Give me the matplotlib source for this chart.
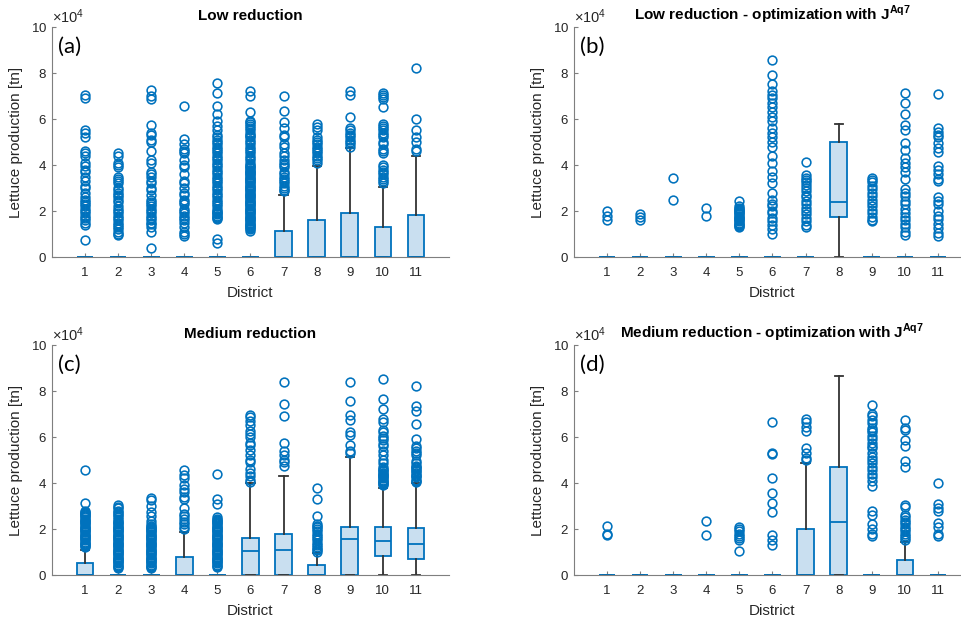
import numpy as np
import matplotlib
matplotlib.use("Agg")
import matplotlib.pyplot as plt

plt.rcParams["font.family"] = ["Liberation Sans", "DejaVu Sans"]
plt.rcParams["mathtext.fontset"] = "custom"
plt.rcParams["mathtext.rm"] = "Liberation Sans"
plt.rcParams["mathtext.bf"] = "Liberation Sans:bold"

# lettuce production per district, values in units of 10^4 tn
SCALE = 1e4
districts = list(range(1, 12))

# (a) low reduction
a_q1 = [0] * 11
a_med = [0] * 11
a_q3 = [0, 0, 0, 0, 0, 0, 1.13, 1.61, 1.93, 1.32, 1.83]
a_lo = [0] * 11
a_hi = [0, 0, 0, 0, 0, 0, 2.7, 3.97, 4.72, 3.06, 4.4]
a_out = [
    [7.05, 6.9, 5.5, 5.4, 5.2, 4.6, 4.5, 4.4, 4.1, 3.95, 3.8, 3.7, 3.5, 3.3, 3.1, 3.0, 2.8, 2.6, 2.5,
     2.4, 2.3, 2.2, 2.1, 2.0, 1.9, 1.8, 1.7, 1.6, 1.5, 1.4, 0.75],
    [4.5, 4.4, 4.1, 4.0, 3.9, 3.5, 3.4, 3.3, 3.2, 3.0, 2.9, 2.8, 2.7, 2.6, 2.5, 2.4, 2.2, 2.1, 2.0,
     1.9, 1.8, 1.7, 1.6, 1.5, 1.4, 1.3, 1.2, 1.1, 1.0, 0.95],
    [7.25, 7.0, 6.85, 5.75, 5.4, 5.3, 5.1, 5.0, 4.6, 4.2, 4.1, 3.7, 3.6, 3.5, 3.3, 3.2, 3.0, 2.9,
     2.7, 2.5, 2.4, 2.3, 2.2, 2.1, 2.0, 1.9, 1.8, 1.7, 1.6, 1.5, 1.45, 1.3, 1.1, 0.4],
    [6.55, 5.15, 4.9, 4.7, 4.6, 4.5, 4.2, 4.0, 3.9, 3.6, 3.3, 3.2, 3.0, 2.8, 2.7, 2.5, 2.4, 2.3,
     2.1, 2.0, 1.9, 1.8, 1.7, 1.6, 1.5, 1.3, 1.1, 1.0, 0.9],
    [7.55, 7.15, 6.55, 6.2, 5.9, 5.7, 5.5, 5.3, 5.2, 5.1, 5.0, 4.9, 4.8, 4.7, 4.6, 4.5, 4.4, 4.3,
     4.2, 4.1, 4.0, 3.9, 3.8, 3.7, 3.6, 3.5, 3.4, 3.3, 3.2, 3.1, 3.0, 2.9, 2.8, 2.7, 2.6, 2.5,
     2.4, 2.3, 2.2, 2.1, 2.0, 1.95, 1.9, 1.85, 1.8, 1.75, 1.7, 1.65, 0.8, 0.6],
    [7.2, 7.0, 6.3, 5.9, 5.85, 5.8, 5.7, 5.6, 5.5, 5.4, 5.3, 5.25, 5.2, 5.1, 5.0, 4.9, 4.8, 4.7,
     4.6, 4.5, 4.4, 4.3, 4.2, 4.1, 4.0, 3.95, 3.9, 3.85, 3.8, 3.75, 3.7, 3.65, 3.6, 3.55, 3.5,
     3.45, 3.4, 3.35, 3.3, 3.25, 3.2, 3.15, 3.1, 3.05, 3.0, 2.95, 2.9, 2.85, 2.8, 2.75, 2.7,
     2.65, 2.6, 2.55, 2.5, 2.45, 2.4, 2.35, 2.3, 2.25, 2.2, 2.15, 2.1, 2.05, 2.0, 1.95, 1.9,
     1.85, 1.8, 1.75, 1.7, 1.65, 1.6, 1.55, 1.5, 1.45, 1.4, 1.35, 1.3, 1.25, 1.2, 1.15],
    [7.0, 6.35, 5.85, 5.6, 5.3, 5.2, 4.9, 4.8, 4.5, 4.4, 4.2, 4.1, 4.0, 3.9, 3.7, 3.6, 3.5, 3.4,
     3.3, 3.2, 3.1, 3.0, 2.9, 2.85],
    [5.8, 5.65, 5.5, 5.2, 5.1, 5.0, 4.9, 4.8, 4.7, 4.6, 4.5, 4.4, 4.3, 4.2, 4.1],
    [7.2, 7.05, 6.1, 5.6, 5.5, 5.4, 5.3, 5.2, 5.1, 5.0, 4.9, 4.8],
    [7.15, 7.05, 6.95, 6.85, 6.5, 5.8, 5.7, 5.6, 5.5, 5.4, 5.3, 5.2, 5.0, 4.9, 4.7, 4.6, 4.5,
     4.0, 3.9, 3.8, 3.7, 3.6, 3.5, 3.4, 3.3, 3.2],
    [8.2, 6.0, 5.5, 5.2, 5.0, 4.7, 4.6],
]

# (b) low reduction, optimised with J^Aq7
b_q1 = [0, 0, 0, 0, 0, 0, 0, 1.75, 0, 0, 0]
b_med = [0, 0, 0, 0, 0, 0, 0, 2.37, 0, 0, 0]
b_q3 = [0, 0, 0, 0, 0, 0, 0, 4.98, 0, 0, 0]
b_lo = [0] * 11
b_hi = [0, 0, 0, 0, 0, 0, 0, 5.77, 0, 0, 0]
b_out = [
    [2.0, 1.8, 1.6],
    [1.85, 1.75, 1.6],
    [3.45, 2.5],
    [2.15, 1.8],
    [2.45, 2.2, 2.15, 2.1, 2.05, 2.0, 1.95, 1.9, 1.85, 1.8, 1.75, 1.7, 1.65, 1.6, 1.55, 1.5,
     1.45, 1.4, 1.35, 1.3],
    [8.55, 7.9, 7.5, 7.2, 7.05, 6.9, 6.7, 6.5, 6.3, 6.1, 5.9, 5.6, 5.4, 5.2, 5.0, 4.8, 4.4, 4.1,
     3.75, 3.5, 3.2, 2.8, 2.5, 2.3, 2.2, 2.0, 1.9, 1.7, 1.55, 1.4, 1.2, 1.0],
    [4.15, 3.55, 3.45, 3.35, 3.25, 3.15, 3.0, 2.85, 2.7, 2.6, 2.45, 2.3, 2.15, 2.0, 1.85, 1.7,
     1.55, 1.4, 1.3],
    [],
    [3.45, 3.35, 3.25, 3.1, 2.95, 2.8, 2.65, 2.5, 2.35, 2.2, 2.05, 1.9, 1.75, 1.6, 1.55],
    [7.15, 6.7, 6.2, 5.75, 5.5, 4.95, 4.65, 4.3, 4.1, 3.9, 3.7, 3.4, 2.95, 2.8, 2.65, 2.45, 2.3,
     2.1, 1.9, 1.75, 1.6, 1.45, 1.3, 1.1, 0.95],
    [7.1, 5.6, 5.45, 5.3, 5.2, 4.95, 4.75, 4.55, 3.95, 3.8, 3.6, 3.4, 3.3, 2.6, 2.45, 2.3, 2.0,
     1.8, 1.65, 1.45, 1.25, 1.05, 0.9],
]

# (c) medium reduction
c_q1 = [0, 0, 0, 0, 0, 0, 0, 0, 0, 0.83, 0.68]
c_med = [0, 0, 0, 0, 0, 1.04, 1.09, 0, 1.57, 1.49, 1.35]
c_q3 = [0.51, 0, 0, 0.8, 0, 1.62, 1.78, 0.43, 2.07, 2.07, 2.03]
c_lo = [0] * 11
c_hi = [1.1, 0, 0, 1.88, 0, 3.99, 4.32, 0.94, 5.12, 3.8, 3.99]
c_out = [
    [4.55, 3.15, 2.8, 2.75, 2.7, 2.65, 2.6, 2.55, 2.5, 2.45, 2.4, 2.35, 2.3, 2.25, 2.2, 2.15,
     2.1, 2.05, 2.0, 1.95, 1.9, 1.85, 1.8, 1.75, 1.7, 1.65, 1.6, 1.55, 1.5, 1.45, 1.4, 1.35,
     1.3, 1.25, 1.2],
    [3.05, 2.95, 2.9, 2.8, 2.75, 2.65, 2.6, 2.5, 2.45, 2.35, 2.3, 2.25, 2.2, 2.15, 2.1, 2.05,
     2.0, 1.95, 1.9, 1.85, 1.8, 1.75, 1.7, 1.65, 1.6, 1.55, 1.5, 1.45, 1.4, 1.35, 1.3, 1.25,
     1.2, 1.15, 1.1, 1.05, 1.0, 0.95, 0.9, 0.85, 0.8, 0.75, 0.7, 0.65, 0.6, 0.55, 0.5, 0.45,
     0.4, 0.35, 0.3],
    [3.35, 3.25, 3.0, 2.75, 2.55, 2.35, 2.2, 2.15, 2.1, 2.05, 2.0, 1.95, 1.9, 1.85, 1.8, 1.75,
     1.7, 1.65, 1.6, 1.55, 1.5, 1.45, 1.4, 1.35, 1.3, 1.25, 1.2, 1.15, 1.1, 1.05, 1.0, 0.95,
     0.9, 0.85, 0.8, 0.75, 0.7, 0.65, 0.6, 0.55, 0.5, 0.45, 0.4, 0.35, 0.3],
    [4.55, 4.35, 4.2, 3.9, 3.75, 3.6, 3.4, 3.3, 2.9, 2.65, 2.55, 2.45, 2.3, 2.2, 2.1, 2.0],
    [4.4, 3.3, 3.1, 2.5, 2.45, 2.4, 2.35, 2.3, 2.25, 2.2, 2.15, 2.1, 2.05, 2.0, 1.95, 1.9,
     1.85, 1.8, 1.75, 1.7, 1.65, 1.6, 1.55, 1.5, 1.45, 1.4, 1.35, 1.3, 1.25, 1.2, 1.15, 1.1,
     1.05, 1.0, 0.95, 0.9, 0.85, 0.8, 0.75, 0.7, 0.65, 0.6, 0.55, 0.5, 0.45, 0.4, 0.35],
    [6.95, 6.85, 6.7, 6.5, 6.25, 6.15, 6.0, 5.75, 5.65, 5.45, 5.2, 5.0, 4.9, 4.6, 4.45, 4.3,
     4.15, 4.05],
    [8.4, 7.45, 6.9, 5.75, 5.4, 5.2, 5.0, 4.9, 4.75],
    [3.8, 3.3, 2.55, 2.2, 2.15, 2.1, 2.0, 1.9, 1.8, 1.7, 1.6, 1.5, 1.4, 1.3, 1.2, 1.15, 1.1,
     1.0],
    [8.4, 7.55, 6.95, 6.75, 6.2, 6.1, 5.65, 5.4, 5.3],
    [8.5, 7.65, 7.2, 6.8, 6.65, 6.3, 6.2, 6.05, 5.95, 5.85, 5.7, 5.6, 5.4, 5.2, 5.0, 4.85, 4.7,
     4.6, 4.55, 4.5, 4.45, 4.4, 4.35, 4.3, 4.25, 4.2, 4.15, 4.1, 4.05, 4.0, 3.95, 3.9],
    [8.2, 7.35, 7.15, 6.55, 5.9, 5.6, 5.5, 5.4, 5.3, 5.2, 4.95, 4.85, 4.75, 4.7, 4.65, 4.55,
     4.5, 4.45, 4.35, 4.3, 4.25, 4.15, 4.1, 4.05],
]

# (d) medium reduction, optimised with J^Aq7
d_q1 = [0] * 11
d_med = [0, 0, 0, 0, 0, 0, 0, 2.3, 0, 0, 0]
d_q3 = [0, 0, 0, 0, 0, 0, 2.0, 4.71, 0, 0.63, 0]
d_lo = [0] * 11
d_hi = [0, 0, 0, 0, 0, 0, 4.86, 8.63, 0, 1.42, 0]
d_out = [
    [2.15, 1.8, 1.75],
    [],
    [],
    [2.35, 1.75],
    [2.1, 2.0, 1.9, 1.8, 1.7, 1.6, 1.5, 1.05],
    [6.65, 5.3, 5.25, 4.2, 3.55, 3.15, 2.75, 1.75, 1.5, 1.3],
    [6.8, 6.65, 6.45, 6.25, 5.5, 5.3, 5.1, 5.0],
    [],
    [7.4, 7.0, 6.9, 6.75, 6.6, 6.4, 6.3, 6.2, 6.05, 5.9, 5.75, 5.6, 5.5, 5.3, 5.15, 5.0, 4.85,
     4.7, 4.55, 4.4, 4.25, 4.1, 3.85, 2.8, 2.6, 2.2, 2.0, 1.8, 1.7],
    [6.75, 6.4, 6.3, 5.85, 5.6, 4.95, 4.7, 3.05, 2.95, 2.6, 2.5, 2.4, 2.3, 2.2, 2.1, 2.0, 1.9,
     1.8, 1.7, 1.6, 1.5],
    [4.0, 3.1, 2.9, 2.8, 2.25, 2.1, 1.8, 1.7],
]

titles = [
    "Low reduction",
    r"Low reduction - optimization with J$^{\mathbf{Aq7}}$",
    "Medium reduction",
    r"Medium reduction - optimization with J$^{\mathbf{Aq7}}$",
]
panel_tags = ["(a)", "(b)", "(c)", "(d)"]

BLUE = "#0072BD"
FILL = "#c9dff0"
DARK = "#262626"


def make_stats(q1, med, q3, lo, hi, out):
    stats = []
    for i in range(len(q1)):
        stats.append(dict(q1=q1[i] * SCALE, med=med[i] * SCALE, q3=q3[i] * SCALE,
                          whislo=lo[i] * SCALE, whishi=hi[i] * SCALE,
                          fliers=np.array(out[i]) * SCALE))
    return stats


panels = [
    make_stats(a_q1, a_med, a_q3, a_lo, a_hi, a_out),
    make_stats(b_q1, b_med, b_q3, b_lo, b_hi, b_out),
    make_stats(c_q1, c_med, c_q3, c_lo, c_hi, c_out),
    make_stats(d_q1, d_med, d_q3, d_lo, d_hi, d_out),
]

fig = plt.figure(figsize=(9.61, 6.19), dpi=100)
# axes rectangles [left, bottom, width, height] in figure fractions
rects = [
    [0.0541, 0.5848, 0.4131, 0.3716],
    [0.5973, 0.5848, 0.4131, 0.3716],
    [0.0541, 0.0711, 0.4131, 0.3716],
    [0.5973, 0.0711, 0.4131, 0.3716],
]

for k in range(4):
    ax = fig.add_axes(rects[k])
    parts = ax.bxp(
        panels[k], positions=districts, widths=0.5, capwidths=0.25,
        patch_artist=True, manage_ticks=False,
        boxprops=dict(facecolor=FILL, edgecolor=BLUE, linewidth=1.3),
        medianprops=dict(color=BLUE, linewidth=1.3),
        whiskerprops=dict(color="#333333", linewidth=1.3),
        capprops=dict(color="#333333", linewidth=1.3),
        flierprops=dict(marker="o", markerfacecolor="none", markeredgecolor=BLUE,
                        markersize=6.3, markeredgewidth=1.15, linestyle="none"),
    )
    for group in parts.values():
        for art in group:
            art.set_clip_on(False)

    ax.set_xlim(0, 12)
    ax.set_ylim(0, 10 * SCALE)
    ax.set_xticks(districts)
    ax.set_yticks(np.arange(0, 10.1, 2) * SCALE)
    ax.ticklabel_format(axis="y", style="sci", scilimits=(4, 4), useMathText=True)
    ax.yaxis.get_offset_text().set_fontsize(10.5)
    ax.yaxis.get_offset_text().set_color(DARK)

    for side in ["top", "right"]:
        ax.spines[side].set_visible(False)
    for side in ["left", "bottom"]:
        ax.spines[side].set_color("#7f7f7f")
        ax.spines[side].set_linewidth(0.8)
    ax.tick_params(direction="in", length=3, width=0.8, color="#7f7f7f",
                   labelcolor=DARK, labelsize=9.5)
    ax.tick_params(axis="x", pad=7)

    ax.set_xlabel("District", fontsize=11, color=DARK, labelpad=5)
    ax.set_ylabel("Lettuce production [tn]", fontsize=11, color=DARK, labelpad=6)
    ax.set_title(titles[k], fontsize=11, fontweight="bold", pad=5)
    ax.text(0.015, 0.915, panel_tags[k], transform=ax.transAxes, fontsize=16,
            family="Lato", va="center", ha="left", color="black")

fig.savefig("out.png", dpi=100)
